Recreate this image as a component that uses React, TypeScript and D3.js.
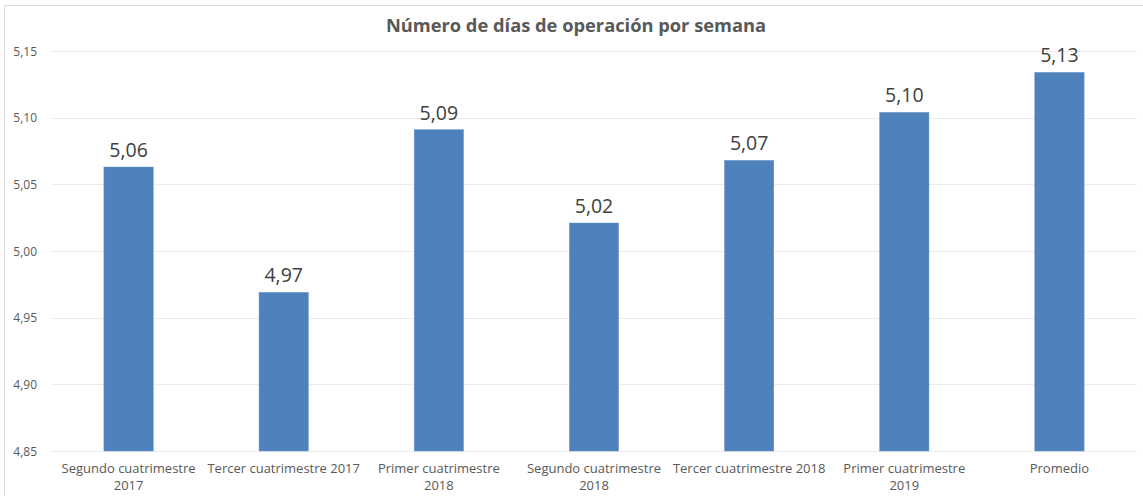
import React from "react";
import * as d3 from "d3";

const title = "Número de días de operación por semana";
const categories = [
  "Segundo cuatrimestre\n2017",
  "Tercer cuatrimestre 2017",
  "Primer cuatrimestre\n2018",
  "Segundo cuatrimestre\n2018",
  "Tercer cuatrimestre 2018",
  "Primer cuatrimestre\n2019",
  "Promedio",
];
const values = [5.063, 4.969, 5.091, 5.021, 5.068, 5.104, 5.134];
const yTicks = [4.85, 4.9, 4.95, 5.0, 5.05, 5.1, 5.15];

const W = 1143;
const H = 496;
const FONT = "'Open Sans', 'Noto Sans', sans-serif";
const TEXT = "#595959";

export default function App() {
  const x = d3.scaleBand<string>().domain(categories).range([51, 1137]).padding(0);
  const y = d3.scaleLinear().domain([4.85, 5.15]).range([451, 51]);
  const barW = x.bandwidth() * 0.318;
  const fmt = (v: number) => v.toFixed(2).replace(".", ",");

  return (
    <svg
      width={W}
      height={H}
      style={{ position: "absolute", left: 0, top: 0, background: "#fff" }}
      fontFamily={FONT}
    >
      <rect x={4.5} y={5.5} width={W + 10} height={H + 10} fill="#fff" stroke="#d9d9d9" strokeWidth={1} />
      <text x={576} y={32} textAnchor="middle" fontSize={18.3} fontWeight="bold" fill={TEXT}>
        {title}
      </text>
      {yTicks.map((t) => (
        <g key={t}>
          <line x1={51} x2={1137} y1={Math.round(y(t)) + 0.5} y2={Math.round(y(t)) + 0.5} stroke="#ececec" strokeWidth={1} />
          <text x={37} y={y(t) + 4.5} textAnchor="end" fontSize={12} fill={TEXT}>
            {fmt(t)}
          </text>
        </g>
      ))}
      {categories.map((c, i) => {
        const cx = (x(c) as number) + x.bandwidth() / 2;
        const v = values[i];
        return (
          <g key={c}>
            <rect
              x={cx - barW / 2}
              y={y(v)}
              width={barW}
              height={y(4.85) - y(v)}
              fill="#4f81bd"
              stroke="#6d97cc"
              strokeWidth={0.5}
            />
            <text x={cx} y={y(v) - 10} textAnchor="middle" fontSize={19.5} fill="#404040">
              {fmt(v)}
            </text>
            {c.split("\n").map((line, j) => (
              <text key={j} x={cx} y={473 + j * 17} textAnchor="middle" fontSize={13} fill={TEXT}>
                {line}
              </text>
            ))}
          </g>
        );
      })}
    </svg>
  );
}
